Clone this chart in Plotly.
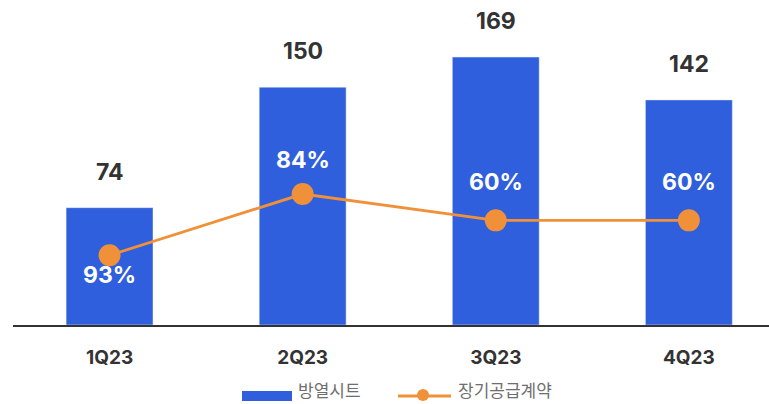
import plotly.graph_objects as go

# Quarterly data
quarters = ["1Q23", "2Q23", "3Q23", "4Q23"]
sheet_volume = [74, 150, 169, 142]          # 방열시트
contract_share = [93, 84, 60, 60]           # 장기공급계약 (%)
contract_trend = [44, 82.6, 66, 66]         # line level on the shared value axis

BLUE = "#2F5FDC"
ORANGE = "#F0913A"
TEXT = "#333333"
LEGEND_TEXT = "#6E6E6E"
FONT = "Inter, 'Noto Sans CJK KR', sans-serif"

W, H = 769, 404
ML, MR, MT, MB = 13, 0, 0, 79
PW, PH = W - ML - MR, H - MT - MB


def px(x, y):
    """Convert page pixels to paper coordinates."""
    return (x - ML) / PW, (H - MB - y) / PH


fig = go.Figure()

fig.add_trace(go.Bar(
    x=quarters, y=sheet_volume, marker_color=BLUE, width=0.45,
    showlegend=False, name="방열시트",
))

fig.add_trace(go.Scatter(
    x=quarters, y=contract_trend, mode="lines+markers",
    line=dict(color=ORANGE, width=2.8),
    marker=dict(color=ORANGE, size=22),
    showlegend=False, name="장기공급계약",
))

# Value labels above the bars
for q, v in zip(quarters, sheet_volume):
    fig.add_annotation(
        x=q, y=v, text=str(v), showarrow=False, yanchor="middle", yshift=36,
        font=dict(family=FONT, size=23, color=TEXT, weight="bold"),
    )

# Percentage labels for the contract series
pct_offsets = [-20, 34, 38, 38]
for q, share, lvl, off in zip(quarters, contract_share, contract_trend, pct_offsets):
    fig.add_annotation(
        x=q, y=lvl, text=f"{share}%", showarrow=False, yshift=off,
        font=dict(family=FONT, size=23, color="white", weight="bold"),
    )

# Legend drawn at the bottom
x0, y0 = px(242, 391)
x1, y1 = px(292, 401)
fig.add_shape(type="rect", xref="paper", yref="paper", x0=x0, x1=x1, y0=y1, y1=y0,
              fillcolor=BLUE, line_width=0)
tx, ty = px(296, 391)
fig.add_annotation(xref="paper", yref="paper", x=tx, y=ty, xanchor="left",
                   yanchor="middle", text="방열시트", showarrow=False,
                   font=dict(family=FONT, size=17, color=LEGEND_TEXT))
lx0, ly = px(398, 396)
lx1, _ = px(451, 396)
fig.add_shape(type="line", xref="paper", yref="paper", x0=lx0, x1=lx1, y0=ly, y1=ly,
              line=dict(color=ORANGE, width=3))
cx, cy = px(423, 395)
rx = 6 / PW
ry = 6 / PH
fig.add_shape(type="circle", xref="paper", yref="paper",
              x0=cx - rx, x1=cx + rx, y0=cy - ry, y1=cy + ry,
              fillcolor=ORANGE, line_width=0)
tx2, _ = px(456, 391)
fig.add_annotation(xref="paper", yref="paper", x=tx2, y=ty, xanchor="left",
                   yanchor="middle", text="장기공급계약", showarrow=False,
                   font=dict(family=FONT, size=17, color=LEGEND_TEXT))

fig.update_layout(
    width=W, height=H,
    margin=dict(l=ML, r=MR, t=MT, b=MB),
    paper_bgcolor="white", plot_bgcolor="white",
    bargap=0.55,
    xaxis=dict(
        range=[-0.5, 3.415], showgrid=False, ticks="",
        showline=True, linecolor="#333333", linewidth=2,
        tickfont=dict(family=FONT, size=19, color=TEXT, weight="bold"),
        ticklabelstandoff=14,
    ),
    yaxis=dict(range=[0, 205], visible=False, showgrid=False),
)

fig.write_html("out.html")
